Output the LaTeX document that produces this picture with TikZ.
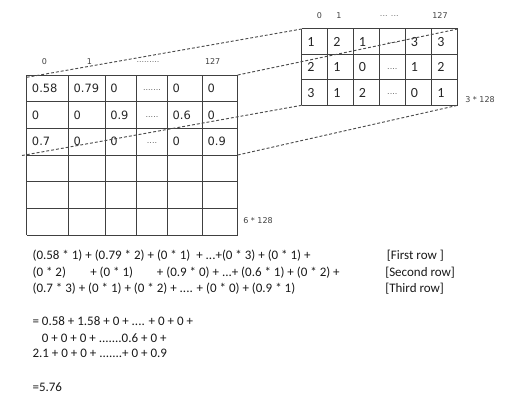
\documentclass[tikz,border=0pt]{standalone}
\usepackage{fontspec}
\setmainfont{Carlito}
\newfontfamily\dv{DejaVu Sans}
\begin{document}
\begin{tikzpicture}[x=0.75pt,y=-0.75pt,
  gridline/.style={draw=black!75,line width=0.75pt},
  proj/.style={draw=black!70,line width=0.7pt,dash pattern=on 2.2pt off 1.5pt},
  lcell/.style={anchor=west,inner sep=0pt,text=black!85,font=\dv\fontsize{8.6}{10}\selectfont},
  ldots/.style={anchor=center,inner sep=0pt,text=black!60,font=\dv\fontsize{6}{7}\selectfont},
  rcell/.style={anchor=west,inner sep=0pt,text=black!85,font=\fontsize{10.5}{12}\selectfont},
  hdr/.style={anchor=center,inner sep=0pt,text=black!75,font=\dv\fontsize{6}{7}\selectfont},
  eq/.style={anchor=base west,inner sep=0pt,text=black!90,font=\fontsize{9.75}{11}\selectfont}]
\useasboundingbox (0,0) rectangle (506,403);
% ---------- left grid 6 x 128 ----------
\def\lx{{26.7,68.3,105,136.7,167.3,202.3,237.7}}
\foreach \i in {0,...,6}{
  \pgfmathsetmacro\xx{\lx[\i]}
  \draw[gridline] (\xx,75) -- (\xx,235);
}
\foreach \j in {0,...,6}{
  \draw[gridline] (26.7,75+26.667*\j) -- (237.7,75+26.667*\j);
}
\coordinate (LTL) at (26.7,77.3);
\coordinate (LTR) at (237.7,75);
\coordinate (LBL) at (22,155.5);
\coordinate (LBR) at (237.7,155);
% headers
\node[hdr] (lh0) at (44.3,61.7) {0};
\node[hdr] (lh1) at (89.3,61.7) {1};
\node[hdr,text=black!55] (lh2) at (148,62.5) {.........};
\node[hdr] (lh3) at (212.7,61.7) {127};
\node[hdr,anchor=west] (lsize) at (243,221) {6 * 128};
% row 1
\node[lcell] (a11) at (31.7,88.3) {0.58};
\node[lcell] (a12) at (73.3,88.3) {0.79};
\node[lcell] (a13) at (110,88.3) {0};
\node[ldots] (a14) at (152,90) {.......};
\node[lcell] (a15) at (172.3,88.3) {0};
\node[lcell] (a16) at (207.3,88.3) {0};
% row 2
\node[lcell] (a21) at (31.7,115) {0};
\node[lcell] (a22) at (73.3,115) {0};
\node[lcell] (a23) at (110,115) {0.9};
\node[ldots] (a24) at (152,116.7) {.....};
\node[lcell] (a25) at (172.3,115) {0.6};
\node[lcell] (a26) at (207.3,115) {0};
% row 3
\node[lcell] (a31) at (31.7,141.7) {0.7};
\node[lcell] (a32) at (73.3,141.7) {0};
\node[lcell] (a33) at (110,141.7) {0};
\node[ldots] (a34) at (152,143.4) {....};
\node[lcell] (a35) at (172.3,141.7) {0};
\node[lcell] (a36) at (207.3,141.7) {0.9};
% ---------- right grid 3 x 128 ----------
\def\rx{{301.7,327.7,353.3,379.3,405.3,431.7,457.7}}
\foreach \i in {0,...,6}{
  \pgfmathsetmacro\xx{\rx[\i]}
  \draw[gridline] (\xx,29) -- (\xx,105.3);
}
\foreach \j in {0,...,3}{
  \draw[gridline] (301.7,29+25.433*\j) -- (457.7,29+25.433*\j);
}
\coordinate (RTL) at (301.7,29);
\coordinate (RTR) at (457.7,29);
\coordinate (RBL) at (301.7,105.3);
\coordinate (RBR) at (457.7,105.3);
\node[hdr] (rh0) at (319.3,15.7) {0};
\node[hdr] (rh1) at (339,15.7) {1};
\node[hdr,text=black!55] (rh2) at (389.3,16.5) {... ...};
\node[hdr] (rh3) at (440,15.7) {127};
\node[hdr,anchor=west] (rsize) at (465,99.3) {3 * 128};
\node[rcell] (b11) at (307,42) {1};
\node[rcell] (b12) at (333,42) {2};
\node[rcell] (b13) at (358.6,42) {1};
\node[ldots] (b14) at (392.3,43.5) {....};
\node[rcell] (b15) at (410.6,42) {3};
\node[rcell] (b16) at (437,42) {3};
\node[rcell] (b21) at (307,67.3) {2};
\node[rcell] (b22) at (333,67.3) {1};
\node[rcell] (b23) at (358.6,67.3) {0};
\node[ldots] (b24) at (392.3,69) {....};
\node[rcell] (b25) at (410.6,67.3) {1};
\node[rcell] (b26) at (437,67.3) {2};
\node[rcell] (b31) at (307,92.7) {3};
\node[rcell] (b32) at (333,92.7) {1};
\node[rcell] (b33) at (358.6,92.7) {2};
\node[ldots] (b34) at (392.3,94.4) {....};
\node[rcell] (b35) at (410.6,92.7) {0};
\node[rcell] (b36) at (437,92.7) {1};
% ---------- projection lines ----------
\draw[proj] (LTL) -- (RTL);
\draw[proj] (LTR) -- (RTR);
\draw[proj] (LBL) -- (RBL);
\draw[proj] (LBR) -- (RBR);
% ---------- equations ----------
\node[eq] (e1) at (32.3,259.7) {(0.58 * 1) + (0.79 * 2) + (0 * 1)\ \ + ...+(0 * 3) + (0 * 1) +};
\node[eq] (e2a) at (32.3,276) {(0 * 2)};
\node[eq] (e2b) at (90,276) {+ (0 * 1)};
\node[eq] (e2c) at (156.7,276) {+ (0.9 * 0) + ...+ (0.6 * 1) + (0 * 2) +};
\node[eq] (e3) at (32.3,292) {(0.7 * 3) + (0 * 1) + (0 * 2) + .... + (0 * 0) + (0.9 * 1)};
\node[eq] (t1) at (386.7,259.7) {[First row ]};
\node[eq] (t2) at (385,276) {[Second row]};
\node[eq] (t3) at (385,292) {[Third row]};
\node[eq] (s1) at (32.3,325.4) {= 0.58 + 1.58 + 0 + .... + 0 + 0 +};
\node[eq] (s2) at (41.7,342) {0 + 0 + 0 + .......0.6 + 0 +};
\node[eq] (s3) at (32.3,357.7) {2.1 + 0 + 0 + .......+ 0 + 0.9};
\node[eq] (s4) at (32.3,391) {=5.76};
\end{tikzpicture}
\end{document}
